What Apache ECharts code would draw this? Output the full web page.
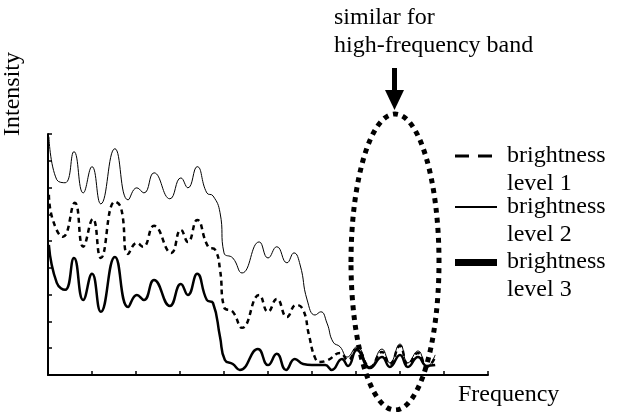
<!DOCTYPE html>
<html><head><meta charset="utf-8">
<script src="https://cdn.jsdelivr.net/npm/echarts@6/dist/echarts.min.js"></script>
<style>html,body{margin:0;padding:0;background:#fff}#c{width:624px;height:412px}</style>
</head><body><div id="c"></div>
<script>
// Frequency (0-10) and intensity (0-9)
const level1 = [[0.02,6.73],[0.11,5.79],[0.34,5.16],[0.61,6.43],[0.8,4.79],[1.02,5.83],[1.2,4.37],[1.52,6.47],[1.66,6.24],[1.82,4.52],[2.02,4.93],[2.16,4.79],[2.41,5.57],[2.8,4.56],[3.02,5.42],[3.18,4.97],[3.39,5.79],[3.64,4.79],[3.8,4.67],[3.91,3.93],[4.0,2.54],[4.2,2.36],[4.41,1.76],[4.8,2.99],[5.0,2.36],[5.2,2.84],[5.43,2.17],[5.64,2.62],[5.8,2.43],[5.93,1.5],[6.07,0.64],[6.18,0.49],[6.36,0.56],[6.64,0.82],[6.82,0.56],[7.02,0.97],[7.32,0.3],[7.59,0.86],[7.77,0.41],[8.0,1.08],[8.18,0.41],[8.41,0.82],[8.61,0.3],[8.8,0.67]];
const level2 = [[0.02,8.9],[0.2,7.29],[0.39,7.18],[0.59,8.34],[0.8,6.8],[1.0,7.78],[1.2,6.39],[1.52,8.45],[1.82,6.54],[2.02,6.99],[2.18,6.8],[2.41,7.55],[2.77,6.58],[3.02,7.36],[3.18,6.99],[3.39,7.78],[3.61,6.8],[3.75,6.69],[3.91,6.06],[4.0,4.56],[4.2,4.37],[4.41,3.81],[4.8,4.97],[5.0,4.37],[5.2,4.79],[5.43,4.19],[5.59,4.56],[5.73,4.11],[5.89,2.8],[6.07,2.24],[6.2,2.36],[6.34,1.94],[6.48,1.23],[6.64,1.05],[6.8,0.67],[7.02,1.05],[7.32,0.3],[7.59,0.97],[7.77,0.45],[8.0,1.16],[8.18,0.45],[8.41,0.9],[8.61,0.3],[8.8,0.75]];
const level3 = [[0.02,4.86],[0.2,3.44],[0.39,3.18],[0.59,4.37],[0.8,2.8],[1.0,3.78],[1.2,2.36],[1.52,4.41],[1.82,2.54],[2.02,2.99],[2.18,2.8],[2.41,3.55],[2.77,2.58],[3.02,3.4],[3.18,2.99],[3.39,3.78],[3.61,2.8],[3.75,2.69],[3.91,1.42],[4.02,0.56],[4.2,0.41],[4.36,0.19],[4.77,0.97],[5.0,0.37],[5.2,0.79],[5.41,0.19],[5.61,0.6],[5.8,0.41],[6.0,0.37],[6.3,0.37],[6.45,0.19],[6.68,0.6],[6.82,0.34],[7.02,0.93],[7.32,0.26],[7.59,0.67],[7.77,0.3],[8.0,0.75],[8.18,0.3],[8.41,0.67],[8.61,0.34],[8.8,0.37]];
const legendNames = ['brightness\nlevel 1','brightness\nlevel 2','brightness\nlevel 3'];
const annotation = ['similar for','high-frequency band'];
const xName = 'Frequency';
const yName = 'Intensity';

const FONT = 'Liberation Serif';
const chart = echarts.init(document.getElementById('c'));
const axisCommon = {
  type: 'value', interval: 1,
  axisLine: { lineStyle: { color: '#000', width: 2 } },
  axisTick: { inside: true, length: 4, lineStyle: { color: '#000', width: 1.5 } },
  axisLabel: { show: false }, splitLine: { show: false }
};
const txt = (x, y, s, extra) => Object.assign({ type: 'text', x, y, style: { text: s, font: '24px "' + FONT + '"', fill: '#000', textVerticalAlign: 'middle' } }, extra || {});
chart.setOption({
  animation: false,
  grid: { left: 48, top: 134, width: 440, height: 241 },
  xAxis: Object.assign({}, axisCommon, { min: 0, max: 10 }),
  yAxis: Object.assign({}, axisCommon, { min: 0, max: 9 }),
  series: [
    { name: legendNames[0], type: 'line', data: level1, smooth: 0.5, symbol: 'none',
      lineStyle: { color: '#000', width: 2.5, type: [5, 4] }, z: 3 },
    { name: legendNames[1], type: 'line', data: level2, smooth: 0.5, symbol: 'none',
      lineStyle: { color: '#000', width: 1 }, z: 4 },
    { name: legendNames[2], type: 'line', data: level3, smooth: 0.5, symbol: 'none',
      lineStyle: { color: '#000', width: 2.5 }, z: 2 }
  ],
  graphic: [
    { type: 'ellipse', shape: { cx: 395, cy: 262, rx: 44, ry: 148 }, style: { fill: null, stroke: '#000', lineWidth: 5, lineDash: [5, 5] }, z: 100 },
    { type: 'rect', shape: { x: 392, y: 68, width: 5, height: 24 }, style: { fill: '#000' }, z: 100 },
    { type: 'polygon', shape: { points: [[385, 90], [404, 90], [394.5, 110]] }, style: { fill: '#000' }, z: 100 },
    txt(334, 18, annotation[0]),
    txt(334, 46, annotation[1]),
    txt(458, 395, xName),
    txt(13, 94, yName, { rotation: Math.PI / 2, style: { text: yName, font: '24px "' + FONT + '"', fill: '#000', textAlign: 'center', textVerticalAlign: 'middle' } }),
    { type: 'line', shape: { x1: 455, y1: 156, x2: 493, y2: 156 }, style: { stroke: '#000', lineWidth: 3, lineDash: [14, 9] } },
    txt(507, 156, 'brightness'), txt(507, 184, 'level 1'),
    { type: 'line', shape: { x1: 455, y1: 207, x2: 497, y2: 207 }, style: { stroke: '#000', lineWidth: 2 } },
    txt(507, 207, 'brightness'), txt(507, 235, 'level 2'),
    { type: 'rect', shape: { x: 455, y: 259, width: 42, height: 7 }, style: { fill: '#000' } },
    txt(507, 262, 'brightness'), txt(507, 290, 'level 3')
  ]
});
</script></body></html>
